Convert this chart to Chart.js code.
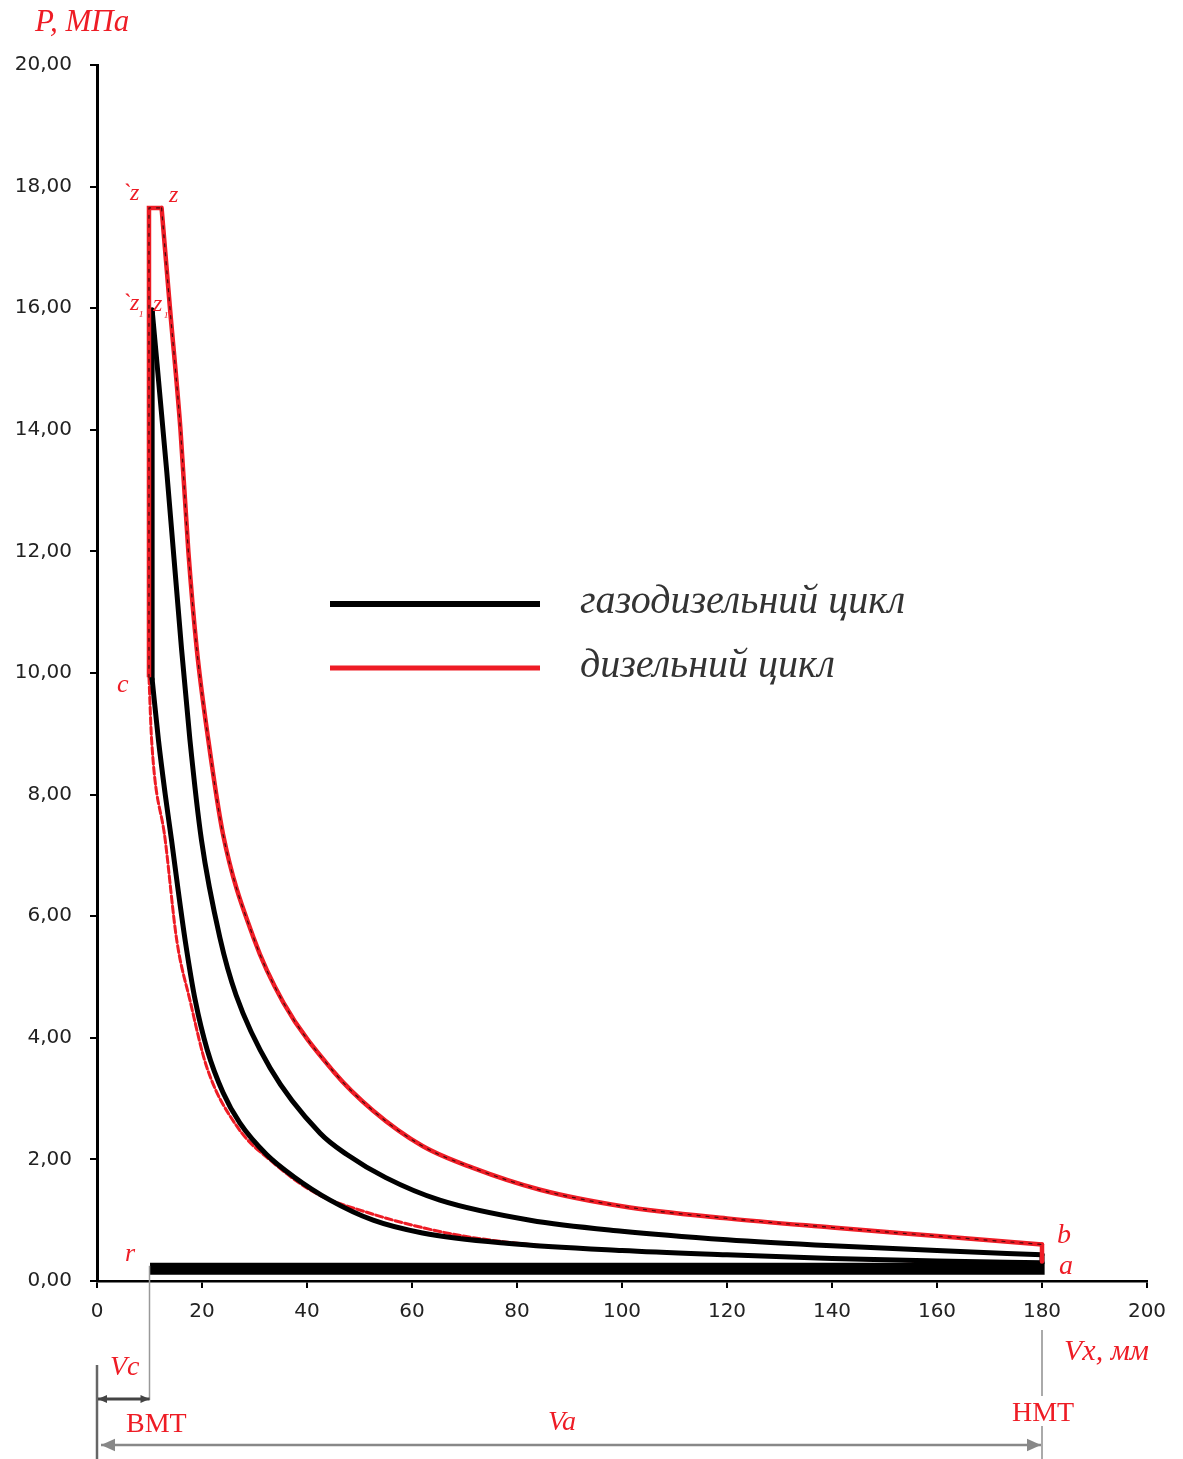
<!DOCTYPE html>
<html><head><meta charset="utf-8">
<script src="https://cdn.jsdelivr.net/npm/chart.js@4/dist/chart.umd.min.js"></script>
<style>html,body{margin:0;padding:0;background:#fff}#wrap{width:1183px;height:1459px;position:relative}</style>
</head><body><div id="wrap"><canvas id="c" width="1183" height="1459"></canvas></div>
<script>
// ---- tick labels ----
const xTickLabels = ['0','20','40','60','80','100','120','140','160','180','200'];
const yTickLabels = ['0,00','2,00','4,00','6,00','8,00','10,00','12,00','14,00','16,00','18,00','20,00'];

// ---- gas-diesel cycle (black) ----
const gasCompV = [10.5, 11.7, 13, 14.2, 15.5, 16.8, 18.7, 21, 24, 27.2, 32.3, 37.4, 44.4, 52.6, 62, 78, 100, 120, 140, 160, 180];
const gasCompP = [9.9, 8.9, 8.0, 7.25, 6.4, 5.6, 4.62, 3.8, 3.1, 2.6, 2.08, 1.72, 1.33, 1.0, 0.79, 0.62, 0.50, 0.43, 0.37, 0.33, 0.30];
const gasCombV = [10.5, 10.5];
const gasCombP = [9.9, 15.97];
const gasExpV  = [10.5, 13.3, 16.1, 17.7, 19.9, 23.4, 26.5, 33, 42.5, 47.6, 55, 65.3, 82.5, 100, 120, 140, 160, 180];
const gasExpP  = [15.97, 13.3, 10.4, 8.9, 7.25, 5.65, 4.7, 3.5, 2.43, 2.08, 1.7, 1.33, 1.0, 0.82, 0.68, 0.58, 0.50, 0.43];
const gasEndV  = [180, 180];
const gasEndP  = [0.43, 0.30];

// ---- diesel cycle (red) ----
const dieselCompV = [9.9, 10.4, 13.0, 15.2, 17.7, 20.9, 26.6, 33.5, 42, 51.4, 60, 69.7, 85, 100, 120, 140, 160, 180];
const dieselCompP = [9.93, 8.9, 7.25, 5.6, 4.62, 3.52, 2.55, 1.95, 1.43, 1.13, 0.92, 0.74, 0.58, 0.50, 0.43, 0.37, 0.32, 0.28];
const dieselCombV = [9.9, 9.9, 12.3];
const dieselCombP = [9.93, 17.65, 17.65];
const dieselExpV  = [12.3, 13.9, 15.9, 17.4, 19.0, 21.2, 24.0, 29.8, 35.5, 45, 52.6, 62, 71.6, 84.4, 100, 120, 140, 160, 180];
const dieselExpP  = [17.65, 16.0, 14.0, 12.0, 10.4, 8.9, 7.35, 5.65, 4.58, 3.45, 2.80, 2.22, 1.86, 1.50, 1.23, 1.03, 0.88, 0.74, 0.60];
const dieselEndV  = [180, 180];
const dieselEndP  = [0.60, 0.32];

// ---- exhaust / intake line r–a ----
const exhaustV = [10.1, 180.5];
const exhaustP = [0.2, 0.2];

const pts = (V, P) => V.map((v, i) => ({x: v, y: P[i]}));
const RED = '#ee1c25';

const base = {showLine: true, pointRadius: 0, fill: false, borderJoinStyle: 'round', borderCapStyle: 'round'};
const seg = (label, V, P, style, smooth) => Object.assign({}, base,
  smooth ? {cubicInterpolationMode: 'monotone'} : {tension: 0},
  {label, data: pts(V, P)}, style);

const redStyle = {borderColor: RED, borderWidth: 4.5, order: 2};
const blkStyle = {borderColor: '#000', borderWidth: 5, order: 3};
const ovStyle  = {borderColor: 'rgba(0,0,0,0.7)', borderWidth: 1.2, borderDash: [3, 6], order: 1};

const datasets = [
  // diesel cycle
  seg('дизельний цикл', dieselExpV, dieselExpP, redStyle, true),
  seg('_d2', dieselCombV, dieselCombP, Object.assign({}, redStyle, {borderJoinStyle: 'miter', borderCapStyle: 'butt'}), false),
  seg('_d3', dieselEndV, dieselEndP, redStyle, false),
  seg('_dov1', dieselExpV, dieselExpP, ovStyle, true),
  seg('_dov2', dieselCombV, dieselCombP, ovStyle, false),
  seg('_dcomp', dieselCompV, dieselCompP, {borderColor: RED, borderWidth: 3, borderDash: [7, 3], order: 5}, true),
  // gas-diesel cycle
  seg('газодизельний цикл', gasCompV, gasCompP, blkStyle, true),
  seg('_g2', gasCombV, gasCombP, blkStyle, false),
  seg('_g3', gasExpV, gasExpP, blkStyle, true),
  seg('_g4', gasEndV, gasEndP, blkStyle, false),
  seg('_exh', exhaustV, exhaustP, {borderColor: '#000', borderWidth: 12, borderCapStyle: 'butt', order: 4}, false)
];

const legendItems = [
  {ds: 6, color: '#000', width: 6},
  {ds: 0, color: RED, width: 5}
];

const annot = {
  id: 'annot',
  afterDraw(chart) {
    const ctx = chart.ctx, xs = chart.scales.x, ys = chart.scales.y;
    const X = v => xs.getPixelForValue(v), Y = v => ys.getPixelForValue(v);
    ctx.save();
    // legend
    const legY = [604, 668];
    legendItems.forEach((li, i) => {
      ctx.strokeStyle = li.color; ctx.lineWidth = li.width; ctx.lineCap = 'butt';
      ctx.beginPath(); ctx.moveTo(330, legY[i]); ctx.lineTo(540, legY[i]); ctx.stroke();
      ctx.fillStyle = '#333'; ctx.font = 'italic 40px "Liberation Serif", serif';
      ctx.textBaseline = 'middle'; ctx.textAlign = 'left';
      ctx.fillText(chart.data.datasets[li.ds].label, 580, legY[i] - 2);
    });
    // red labels
    ctx.fillStyle = RED; ctx.textBaseline = 'alphabetic';
    const it = s => 'italic ' + s + 'px "Liberation Serif", serif';
    const up = s => s + 'px "Liberation Serif", serif';
    const txt = (t, x, y, f, al) => { ctx.font = f; ctx.textAlign = al || 'left'; ctx.fillText(t, x, y); };
    txt('P, МПа', 35, 31, it(31));
    txt('`z', 122, 200, it(24));
    txt('z', 169, 202, it(24));
    txt('`z', 122, 310, it(24));
    txt('₁', 138, 314, it(16));
    txt('z', 153, 311, it(24));
    txt('₁', 163, 315, it(16));
    txt('c', 117, 692, it(26));
    txt('r', 125, 1261, it(26));
    txt('b', X(180) + 15, 1243, it(28));
    txt('a', X(180) + 17, 1274, it(28));
    txt('Vx, мм', 1064, 1360, it(30));
    txt('Vc', 110, 1375, it(28));
    txt('Va', 548, 1430, it(28));
    txt('ВМТ', 126, 1432, up(28));
    txt('НМТ', 1012, 1421, up(28));
    // dimension lines
    ctx.lineCap = 'butt';
    ctx.strokeStyle = '#999'; ctx.lineWidth = 1.5;
    ctx.beginPath(); ctx.moveTo(X(10), Y(0.25)); ctx.lineTo(X(10), 1400); ctx.stroke();
    ctx.strokeStyle = '#aaa'; ctx.lineWidth = 2;
    ctx.beginPath(); ctx.moveTo(X(180), 1330); ctx.lineTo(X(180), 1396);
    ctx.moveTo(X(180), 1426); ctx.lineTo(X(180), 1459); ctx.stroke();
    ctx.strokeStyle = '#666'; ctx.lineWidth = 2.5;
    ctx.beginPath(); ctx.moveTo(X(0), 1365); ctx.lineTo(X(0), 1459); ctx.stroke();
    const arrow = (x1, x2, y, col, w, h) => {
      ctx.strokeStyle = col; ctx.fillStyle = col; ctx.lineWidth = w;
      ctx.beginPath(); ctx.moveTo(x1, y); ctx.lineTo(x2, y); ctx.stroke();
      ctx.beginPath(); ctx.moveTo(x1, y); ctx.lineTo(x1 + h, y - h / 2.2); ctx.lineTo(x1 + h, y + h / 2.2); ctx.closePath(); ctx.fill();
      ctx.beginPath(); ctx.moveTo(x2, y); ctx.lineTo(x2 - h, y - h / 2.2); ctx.lineTo(x2 - h, y + h / 2.2); ctx.closePath(); ctx.fill();
    };
    arrow(X(0) + 1, X(10), 1399, '#444', 3, 9);
    arrow(X(0) + 4, X(180) - 1, 1445, '#888', 2.5, 14);
    ctx.restore();
  }
};

new Chart(document.getElementById('c'), {
  type: 'scatter',
  data: {datasets},
  plugins: [annot],
  options: {
    responsive: false, animation: false, devicePixelRatio: 1,
    layout: {padding: {top: 65, right: 36, left: 0, bottom: 0}},
    plugins: {legend: {display: false}, tooltip: {enabled: false}},
    scales: {
      x: {
        type: 'linear', min: 0, max: 200,
        ticks: {stepSize: 20, color: '#222', font: {family: '"DejaVu Sans", sans-serif', size: 20}, padding: 12,
          callback: v => xTickLabels[Math.round(v / 20)]},
        grid: {drawOnChartArea: false, drawTicks: true, tickLength: 7, color: '#000', lineWidth: 2},
        border: {display: true, color: '#000', width: 2.5},
        afterFit: s => { s.height = 178; }
      },
      y: {
        type: 'linear', min: 0, max: 20,
        ticks: {stepSize: 2, color: '#222', font: {family: '"DejaVu Sans", sans-serif', size: 20}, padding: 18,
          callback: v => yTickLabels[Math.round(v / 2)]},
        grid: {drawOnChartArea: false, drawTicks: true, tickLength: 7, color: '#000', lineWidth: 2},
        border: {display: true, color: '#000', width: 3},
        afterFit: s => { s.width = 97; }
      }
    }
  }
});
</script></body></html>
